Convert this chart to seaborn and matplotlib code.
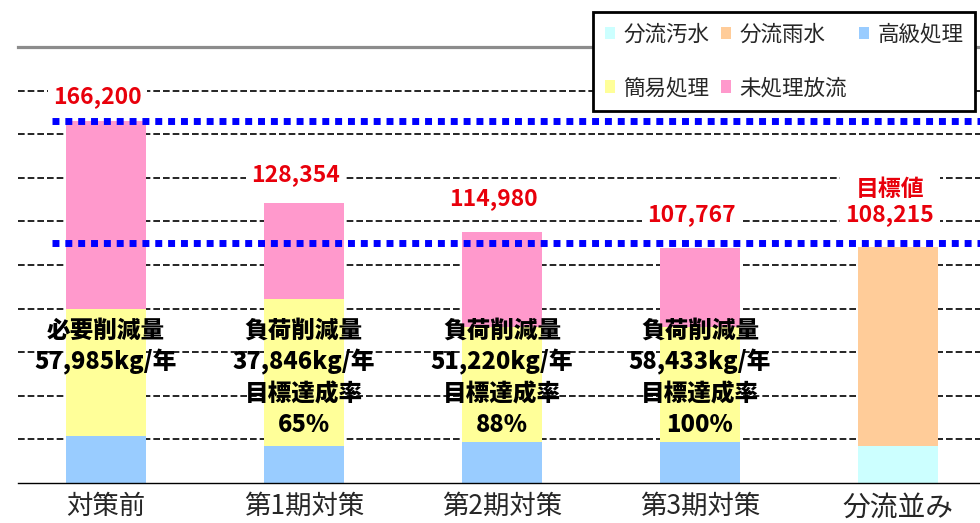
import numpy as np
import pandas as pd
import matplotlib
matplotlib.use("Agg")
import matplotlib.pyplot as plt
from matplotlib.patches import Patch
import seaborn as sns

# --- Data ---
categories = ["対策前", "第1期対策", "第2期対策", "第3期対策", "分流並み"]
series_names = ["分流汚水", "分流雨水", "高級処理", "簡易処理", "未処理放流"]  # bottom -> top

sep_sewage = [0, 0, 0, 0, 17100]
sep_rain = [0, 0, 0, 0, 91115]
advanced = [21700, 17100, 18950, 18950, 0]
simple = [57980, 67300, 52750, 52750, 0]
untreated = [86520, 43954, 43280, 36067, 0]

total_labels = ["166,200", "128,354", "114,980", "107,767", "目標値\n108,215"]
bar_notes = [
    "必要削減量\n57,985kg/年",
    "負荷削減量\n37,846kg/年\n目標達成率\n65%",
    "負荷削減量\n51,220kg/年\n目標達成率\n88%",
    "負荷削減量\n58,433kg/年\n目標達成率\n100%",
    "",
]
upper_line = 166200
target_line = 110000

colors = {
    "分流汚水": "#CCFFFF",
    "分流雨水": "#FFCC99",
    "高級処理": "#99CCFF",
    "簡易処理": "#FFFF99",
    "未処理放流": "#FF99CC",
}

# --- Setup ---
sns.set_style("white")
plt.rcParams["font.family"] = ["Noto Sans CJK JP", "DejaVu Sans"]

df = pd.DataFrame({
    "category": categories,
    "分流汚水": sep_sewage,
    "分流雨水": sep_rain,
    "高級処理": advanced,
    "簡易処理": simple,
    "未処理放流": untreated,
})
cum = df[series_names].cumsum(axis=1)
cum["category"] = df["category"]

fig = plt.figure(figsize=(9.8, 5.23), dpi=100)
ax = fig.add_axes([18 / 980, 1 - 483 / 523, 1 - 18 / 980, (483 - 47) / 523])

# stacked bars: draw cumulative heights top layer first
for name in reversed(series_names):
    sns.barplot(data=cum, x="category", y=name, order=categories, color=colors[name],
                saturation=1, width=0.4, errorbar=None, linewidth=0, ax=ax, zorder=2)

ax.set_xlim(-0.444, 4.414)
ax.set_ylim(0, 200000)
ax.set_xlabel("")
ax.set_ylabel("")

ax.set_yticks(np.arange(20000, 200000, 20000))
ax.set_yticklabels([])
ax.tick_params(axis="y", length=0)
ax.grid(axis="y", color="black", linestyle=(0, (4, 1.8)), linewidth=1.2)
ax.set_axisbelow(True)

ax.tick_params(axis="x", which="major", length=0, pad=7, labelsize=19)
ax.get_xticklabels()[-1].set_fontsize(20)
ax.set_xticks(np.arange(0.5, 4, 1), minor=True)
ax.tick_params(axis="x", which="minor", direction="in", length=6, width=1.2, color="black")

for side in ["left", "right"]:
    ax.spines[side].set_visible(False)
ax.spines["top"].set_color("#8c8c8c")
ax.spines["top"].set_linewidth(2.3)
ax.spines["bottom"].set_color("black")
ax.spines["bottom"].set_linewidth(1)

# blue dotted reference lines
for yv in [upper_line, target_line]:
    ax.axhline(yv, xmin=0.035, xmax=1, color="#0000FF", linewidth=5,
               linestyle=(0, (1, 0.85)), dash_capstyle="butt", zorder=3)

# totals (red) and notes inside bars
totals = cum["未処理放流"].values
label_dy = [9, 12, 16, 16, 15]
for i, (lab, tot) in enumerate(zip(total_labels, totals)):
    ax.annotate(lab, xy=(i, tot), xytext=(-6, label_dy[i]), textcoords="offset points",
                ha="center", va="bottom", color="#E8000B", fontsize=16.5, fontweight="bold",
                linespacing=1.15, zorder=5,
                bbox=dict(facecolor="white", edgecolor="none", pad=4))

for i, note in enumerate(bar_notes):
    if note:
        ax.text(i, 75700, note, ha="center", va="top", fontsize=17, fontweight="heavy",
                linespacing=1.33, color="black", zorder=4)

# legend, row-major order like the original
order = ["分流汚水", "簡易処理", "分流雨水", "未処理放流", "高級処理"]
handles = [Patch(facecolor=colors[n], edgecolor="none", label=n) for n in order]
leg = ax.legend(handles=handles, loc="upper right", bbox_to_anchor=(975 / 980, 1 - 12 / 523),
                bbox_transform=fig.transFigure, ncol=3, frameon=True, fancybox=False,
                edgecolor="black", framealpha=1, fontsize=15.5, handlelength=0.45,
                handleheight=0.5, handletextpad=0.4, columnspacing=0.55,
                labelspacing=1.45, borderpad=0.55, borderaxespad=0)
leg.get_frame().set_linewidth(2)
leg.set_zorder(10)

fig.savefig("out.png", dpi=100)
